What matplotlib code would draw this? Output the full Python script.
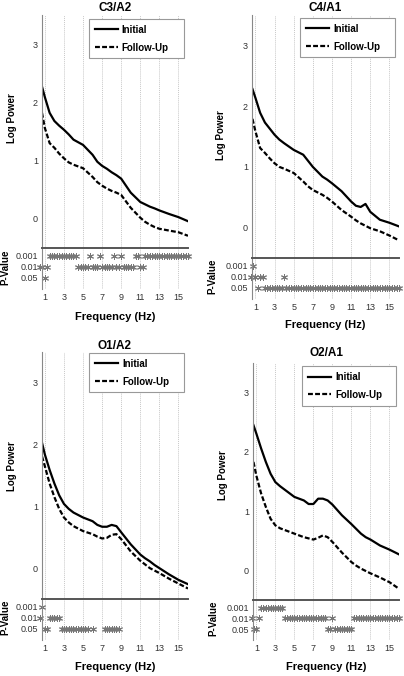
import matplotlib
matplotlib.use('Agg')
import matplotlib.pyplot as plt

plt.rcParams['font.family'] = ['Liberation Sans Narrow', 'Liberation Sans', 'DejaVu Sans']

# frequency grid of the spectra (Hz)
curve_freq = [0.7, 1, 1.5, 2, 2.5, 3, 3.5, 4, 5, 6, 6.5, 7, 7.5, 8, 8.5, 9,
              10, 11, 11.5, 12, 12.5, 13, 14, 15, 16]

c3_initial = [2.27, 2.09, 1.82, 1.68, 1.60, 1.53, 1.45, 1.36, 1.27, 1.10, 0.98, 0.91, 0.86,
              0.80, 0.75, 0.69, 0.45, 0.29, 0.25, 0.21, 0.18, 0.145, 0.085, 0.03, -0.04]
c3_follow = [1.82, 1.56, 1.30, 1.22, 1.12, 1.04, 0.97, 0.93, 0.87, 0.72, 0.63, 0.57, 0.52,
             0.48, 0.45, 0.41, 0.19, 0.02, -0.05, -0.10, -0.14, -0.17, -0.20, -0.23, -0.29]

c4_initial = [2.28, 2.14, 1.89, 1.73, 1.63, 1.53, 1.45, 1.39, 1.28, 1.20, 1.10, 1.00, 0.92,
              0.84, 0.79, 0.73, 0.60, 0.43, 0.36, 0.34, 0.39, 0.26, 0.13, 0.08, 0.02]
c4_follow = [1.79, 1.59, 1.31, 1.23, 1.14, 1.06, 1.00, 0.97, 0.90, 0.76, 0.68, 0.62, 0.58,
             0.54, 0.49, 0.43, 0.29, 0.18, 0.12, 0.07, 0.03, -0.01, -0.06, -0.13, -0.21]

o1_initial = [2.03, 1.84, 1.59, 1.37, 1.18, 1.04, 0.96, 0.90, 0.82, 0.76, 0.70, 0.67, 0.67,
              0.70, 0.68, 0.58, 0.385, 0.22, 0.16, 0.11, 0.05, 0.0, -0.10, -0.19, -0.26]
o1_follow = [1.81, 1.65, 1.37, 1.15, 0.96, 0.82, 0.74, 0.68, 0.60, 0.55, 0.51, 0.48, 0.49,
             0.54, 0.55, 0.47, 0.27, 0.12, 0.06, 0.0, -0.04, -0.08, -0.17, -0.25, -0.33]

o2_initial = [2.45, 2.31, 2.06, 1.83, 1.63, 1.49, 1.42, 1.36, 1.24, 1.18, 1.12, 1.12, 1.21,
              1.21, 1.18, 1.11, 0.93, 0.78, 0.70, 0.62, 0.56, 0.52, 0.42, 0.35, 0.27]
o2_follow = [1.83, 1.60, 1.30, 1.07, 0.87, 0.76, 0.71, 0.68, 0.62, 0.56, 0.54, 0.52, 0.55,
             0.59, 0.56, 0.48, 0.30, 0.14, 0.08, 0.03, -0.01, -0.05, -0.12, -0.20, -0.31]

# significance per 0.25 Hz bin from 0.5 to 16 Hz (0 none, 1 p<0.05, 2 p<0.01, 3 p<0.001)
bin_freq = [0.5 + 0.25 * i for i in range(63)]
c3_sig = [2, 2, 1, 2,  3, 3, 3, 3,  3, 3, 3, 3,  3, 3, 3, 3,  2, 2, 2, 2,  2, 3, 2, 2,
          2, 3, 2, 2,  2, 2, 2, 3,  2, 2, 3, 2,  2, 2, 2, 2,  3, 3, 2, 2,  3, 3, 3, 3,
          3, 3, 3, 3,  3, 3, 3, 3,  3, 3, 3, 3,  3, 3, 3]
c4_sig = [2, 3, 2, 1,  2, 2, 1, 1,  1, 1, 1, 1,  1, 1, 2, 1,  1, 1, 1, 1,  1, 1, 1, 1,
          1, 1, 1, 1,  1, 1, 1, 1,  1, 1, 1, 1,  1, 1, 1, 1,  1, 1, 1, 1,  1, 1, 1, 1,
          1, 1, 1, 1,  1, 1, 1, 1,  1, 1, 1, 1,  1, 1, 1]
o1_sig = [2, 3, 1, 1,  2, 2, 2, 2,  2, 1, 1, 1,  1, 1, 1, 1,  1, 1, 1, 1,  1, 0, 1, 0,
          0, 0, 0, 1,  1, 1, 1, 1,  1, 1, 0, 0,  0, 0, 0, 0,  0, 0, 0, 0,  0, 0, 0, 0,
          0, 0, 0, 0,  0, 0, 0, 0,  0, 0, 0, 0,  0, 0, 0]
o2_sig = [2, 1, 1, 2,  3, 3, 3, 3,  3, 3, 3, 3,  3, 3, 2, 2,  2, 2, 2, 2,  2, 2, 2, 2,
          2, 2, 2, 2,  2, 2, 2, 2,  1, 1, 2, 1,  1, 1, 1, 1,  1, 1, 1, 2,  2, 2, 2, 2,
          2, 2, 2, 2,  2, 2, 2, 2,  2, 2, 2, 2,  2, 2, 2]

titles = ['C3/A2', 'C4/A1', 'O1/A2', 'O2/A1']
initial = [c3_initial, c4_initial, o1_initial, o2_initial]
follow = [c3_follow, c4_follow, o1_follow, o2_follow]
sig = [c3_sig, c4_sig, o1_sig, o2_sig]
p_labels = ['0.05', '0.01', '0.001']
x_ticks = [1, 3, 5, 7, 9, 11, 13, 15]

W, H = 404, 676
# pixel boxes: left, top of main, right, separator, bottom of p panel
layout = [
    dict(l=42, t=15, r=188, m=248, b=289, x0=0.7, tpad=3.2, ylc=(-0.173, 0.558),
         pyc=(-0.215, 0.52), xl=-0.56, leg=(0.32, 0.815, 0.653, 0.168)),
    dict(l=252, t=15, r=399, m=258, b=299, x0=0.65, tpad=3.2, ylc=(-0.175, 0.506),
         pyc=(-0.234, 0.56), xl=-0.51, leg=(0.326, 0.827, 0.647, 0.161)),
    dict(l=42, t=352, r=188, m=599, b=640, x0=0.7, tpad=1.7, ylc=(-0.173, 0.538),
         pyc=(-0.215, 0.56), xl=-0.54, leg=(0.322, 0.834, 0.651, 0.162)),
    dict(l=253, t=363, r=399, m=600, b=640, x0=0.65, tpad=4.8, ylc=(-0.171, 0.527),
         pyc=(-0.24, 0.55), xl=-0.54, leg=(0.336, 0.827, 0.644, 0.160)),
]


def box(l, t, r, b):
    return [l / W, 1 - b / H, (r - l) / W, (b - t) / H]


fig = plt.figure(figsize=(W / 100, H / 100), dpi=100)

for k in range(4):
    L = layout[k]
    ax = fig.add_axes(box(L['l'], L['t'], L['r'], L['m']))
    pv = fig.add_axes(box(L['l'], L['m'], L['r'], L['b']))

    for x in x_ticks:
        ax.axvline(x, color='#c8c8c8', lw=0.7, ls=(0, (1, 1)), zorder=0)
        pv.axvline(x, color='#c8c8c8', lw=0.7, ls=(0, (1, 1)), zorder=0)

    ax.plot(curve_freq, initial[k], color='black', lw=1.6, label='Initial')
    ax.plot(curve_freq, follow[k], color='black', lw=1.6, ls=(0, (2.2, 1.0)),
            label='Follow-Up')
    ax.set_xlim(L['x0'], 16)
    ax.set_ylim(-0.5, 3.5)
    ax.set_yticks([0, 1, 2, 3])
    ax.set_xticks([])
    ax.tick_params(length=0, labelsize=6.5, pad=3, colors='#333333')
    for s in ['top', 'right', 'bottom']:
        ax.spines[s].set_visible(False)
    ax.spines['left'].set_color('#888888')
    ax.spines['left'].set_linewidth(0.8)
    ax.set_title(titles[k], fontsize=8.5, fontweight='bold', pad=L['tpad'])
    ax.set_ylabel('Log Power', fontsize=7, fontweight='bold')
    ax.yaxis.set_label_coords(*L['ylc'])
    leg = ax.legend(loc='upper left', bbox_to_anchor=L['leg'], mode='expand',
                    prop={'weight': 'bold', 'size': 7}, fancybox=False,
                    edgecolor='#999999', framealpha=1, handlelength=2.4,
                    handletextpad=0.4, labelspacing=0.8, borderpad=0.6,
                    borderaxespad=0)
    leg.get_frame().set_linewidth(0.8)

    fx = [f for f, s in zip(bin_freq, sig[k]) if s > 0]
    fy = [s for s in sig[k] if s > 0]
    pv.plot(fx, fy, ls='none', marker=(6, 2, 0), ms=5, mew=0.7, color='#777777',
            clip_on=False)
    pv.set_xlim(L['x0'], 16)
    pv.set_ylim(0, 3.7)
    pv.set_yticks([1, 2, 3])
    pv.set_yticklabels(p_labels)
    pv.set_xticks(x_ticks)
    pv.tick_params(length=0, labelsize=6.5, pad=3, colors='#333333')
    for s in ['right', 'bottom']:
        pv.spines[s].set_visible(False)
    pv.spines['top'].set_color('#555555')
    pv.spines['top'].set_linewidth(1.4)
    pv.spines['left'].set_color('#888888')
    pv.spines['left'].set_linewidth(0.8)
    pv.set_ylabel('P-Value', fontsize=7, fontweight='bold')
    pv.yaxis.set_label_coords(*L['pyc'])
    pv.set_xlabel('Frequency (Hz)', fontsize=8, fontweight='bold')
    pv.xaxis.set_label_coords(0.5, L['xl'])

fig.savefig('out.png', dpi=100)
